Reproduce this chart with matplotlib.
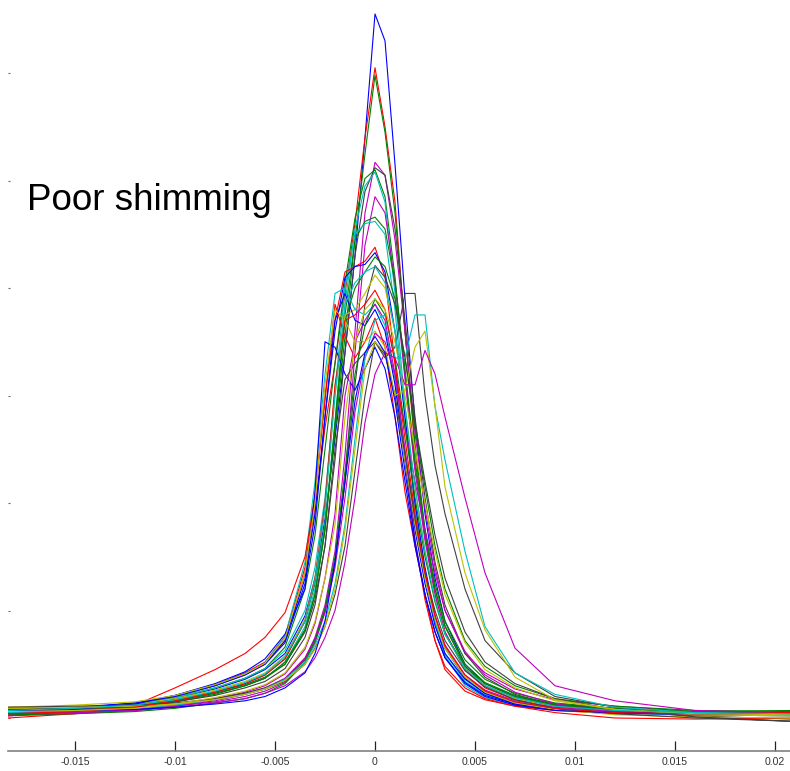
import matplotlib
matplotlib.use('Agg')
import matplotlib.pyplot as plt
import numpy as np

# frequency offset grid shared by all spectra
freq = np.array([-0.01835, -0.015, -0.012, -0.010, -0.008, -0.0065, -0.0055, -0.0045,
                 -0.0035, -0.003, -0.0025, -0.002, -0.0015, -0.001, -0.0005, 0.0,
                 0.0005, 0.001, 0.0015, 0.002, 0.0025, 0.003, 0.0035, 0.0045,
                 0.0055, 0.007, 0.009, 0.012, 0.016, 0.02075])

# spectra (arbitrary units, 1 unit = 1 y tick)
s01 = [0.06, 0.08, 0.12, 0.18, 0.27, 0.36, 0.45, 0.6, 0.95, 1.3, 1.85, 2.6, 3.4, 4.3, 5.4, 6.55, 6.3, 5.15, 3.9, 2.75, 1.9, 1.3, 0.9, 0.5, 0.32, 0.2, 0.13, 0.08, 0.04, 0.03]
s02 = [0.03, 0.07, 0.13, 0.2, 0.3, 0.4, 0.5, 0.72, 1.35, 1.95, 2.7, 3.3, 3.95, 4.6, 5.4, 6.05, 5.5, 4.8, 3.6, 2.5, 1.7, 1.15, 0.8, 0.45, 0.28, 0.17, 0.11, 0.07, 0.04, 0.05]
s03 = [0.05, 0.07, 0.11, 0.16, 0.24, 0.32, 0.4, 0.55, 0.9, 1.25, 1.8, 2.65, 3.55, 4.45, 5.25, 5.98, 5.45, 4.7, 3.6, 2.55, 1.75, 1.2, 0.85, 0.48, 0.3, 0.19, 0.12, 0.07, 0.05, 0.05]
s04 = [0.04, 0.05, 0.07, 0.11, 0.16, 0.22, 0.27, 0.36, 0.55, 0.75, 1.05, 1.55, 2.45, 3.6, 4.7, 5.17, 5.05, 4.45, 3.6, 2.65, 1.95, 1.4, 1.0, 0.6, 0.42, 0.27, 0.17, 0.11, 0.06, 0.05]
s05 = [0.09, 0.1, 0.13, 0.17, 0.24, 0.31, 0.38, 0.5, 0.8, 1.1, 1.6, 2.4, 3.4, 4.3, 4.9, 5.12, 5.05, 4.55, 3.7, 2.8, 2.05, 1.45, 1.05, 0.6, 0.38, 0.22, 0.12, 0.06, 0.02, -0.01]
s06 = [0.05, 0.08, 0.13, 0.19, 0.28, 0.37, 0.46, 0.66, 1.2, 1.7, 2.5, 3.3, 4.05, 4.65, 5.02, 5.1, 4.85, 4.1, 3.2, 2.35, 1.7, 1.2, 0.86, 0.5, 0.33, 0.21, 0.13, 0.09, 0.06, 0.05]
s07 = [0.04, 0.06, 0.1, 0.15, 0.23, 0.3, 0.37, 0.52, 0.85, 1.2, 1.8, 2.75, 3.85, 4.55, 4.95, 5.08, 4.8, 3.95, 2.9, 2.0, 1.35, 0.88, 0.58, 0.3, 0.19, 0.12, 0.08, 0.05, 0.03, 0.03]
s08 = [0.02, 0.04, 0.07, 0.11, 0.17, 0.23, 0.28, 0.37, 0.56, 0.74, 1.0, 1.45, 2.2, 3.4, 4.4, 4.85, 4.7, 4.05, 3.15, 2.3, 1.65, 1.15, 0.8, 0.45, 0.3, 0.18, 0.11, 0.06, 0.03, 0.02]
s09 = [0.08, 0.09, 0.12, 0.16, 0.23, 0.3, 0.37, 0.5, 0.82, 1.15, 1.75, 2.75, 3.75, 4.45, 4.62, 4.66, 4.55, 4.05, 3.25, 2.4, 1.75, 1.25, 0.9, 0.54, 0.36, 0.23, 0.14, 0.09, 0.05, 0.04]
s10 = [0.06, 0.09, 0.13, 0.19, 0.28, 0.37, 0.46, 0.63, 1.0, 1.4, 2.05, 3.05, 4.0, 4.5, 4.6, 4.62, 4.5, 3.8, 2.8, 1.95, 1.35, 0.9, 0.6, 0.34, 0.22, 0.13, 0.08, 0.04, 0.03, 0.02]
s11 = [0.02, 0.06, 0.12, 0.2, 0.31, 0.42, 0.52, 0.76, 1.4, 2.1, 3.0, 3.7, 4.15, 4.2, 4.25, 4.38, 4.1, 3.3, 2.4, 1.65, 1.1, 0.72, 0.48, 0.28, 0.18, 0.11, 0.07, 0.04, 0.04, 0.05]
s12 = [0.06, 0.09, 0.14, 0.21, 0.31, 0.41, 0.51, 0.72, 1.3, 1.9, 2.8, 3.6, 4.1, 4.2, 4.22, 4.33, 4.15, 3.6, 2.8, 2.0, 1.4, 0.95, 0.65, 0.37, 0.23, 0.13, 0.08, 0.05, 0.03, 0.03]
s13 = [0.05, 0.07, 0.1, 0.15, 0.22, 0.3, 0.37, 0.52, 0.82, 1.15, 1.75, 2.7, 3.7, 4.0, 4.15, 4.29, 4.2, 3.9, 3.35, 2.7, 2.15, 1.6, 1.2, 0.72, 0.48, 0.3, 0.18, 0.11, 0.07, 0.06]
s14 = [0.1, 0.1, 0.11, 0.13, 0.18, 0.23, 0.28, 0.36, 0.54, 0.72, 1.0, 1.45, 2.2, 3.1, 3.85, 4.21, 4.1, 3.85, 3.35, 2.75, 2.2, 1.7, 1.3, 0.8, 0.52, 0.32, 0.18, 0.08, 0.01, -0.03]
s15 = [0.08, 0.1, 0.13, 0.18, 0.26, 0.34, 0.42, 0.58, 0.92, 1.3, 1.95, 3.0, 3.75, 3.8, 3.95, 4.12, 4.0, 3.6, 2.9, 2.15, 1.55, 1.1, 0.78, 0.46, 0.3, 0.18, 0.1, 0.05, 0.03, 0.03]
s16 = [0.05, 0.08, 0.13, 0.2, 0.3, 0.41, 0.51, 0.76, 1.45, 2.2, 3.2, 3.95, 4.0, 3.8, 3.75, 3.85, 3.65, 3.15, 2.45, 1.8, 1.3, 0.92, 0.65, 0.38, 0.25, 0.15, 0.09, 0.05, 0.03, 0.03]
s17 = [0.0, 0.04, 0.12, 0.28, 0.45, 0.6, 0.75, 0.98, 1.5, 2.05, 2.95, 3.85, 3.55, 3.35, 3.5, 3.72, 3.45, 2.8, 2.1, 1.6, 1.15, 0.72, 0.45, 0.25, 0.17, 0.11, 0.05, 0.0, -0.01, 0.0]
s18 = [0.05, 0.08, 0.13, 0.21, 0.32, 0.43, 0.55, 0.78, 1.2, 2.1, 3.5, 3.45, 3.2, 3.05, 3.25, 3.45, 3.25, 2.8, 2.2, 1.6, 1.15, 0.8, 0.56, 0.33, 0.21, 0.13, 0.08, 0.05, 0.03, 0.04]
s19 = [0.04, 0.05, 0.08, 0.12, 0.18, 0.24, 0.3, 0.41, 0.64, 0.88, 1.3, 1.9, 3.0, 3.5, 3.7, 3.85, 3.7, 3.2, 2.5, 1.85, 1.35, 0.95, 0.68, 0.4, 0.26, 0.16, 0.1, 0.06, 0.03, 0.03]
s20 = [0.07, 0.1, 0.14, 0.2, 0.3, 0.4, 0.5, 0.7, 1.25, 1.8, 2.8, 3.7, 3.95, 3.7, 3.65, 3.8, 3.6, 3.1, 2.4, 1.75, 1.25, 0.86, 0.6, 0.36, 0.23, 0.14, 0.08, 0.05, 0.04, 0.05]
s21 = [0.1, 0.12, 0.15, 0.21, 0.31, 0.41, 0.51, 0.74, 1.35, 2.0, 3.1, 3.8, 3.7, 3.5, 3.5, 3.6, 3.45, 3.0, 2.4, 1.8, 1.3, 0.92, 0.65, 0.38, 0.24, 0.14, 0.08, 0.03, 0.01, 0.0]
s22 = [0.06, 0.06, 0.08, 0.11, 0.15, 0.2, 0.25, 0.33, 0.52, 0.7, 0.98, 1.4, 2.05, 2.85, 3.35, 3.58, 3.5, 3.2, 2.7, 2.2, 1.75, 1.35, 1.0, 0.62, 0.4, 0.24, 0.13, 0.07, 0.04, 0.04]
s23 = [0.08, 0.09, 0.11, 0.15, 0.21, 0.28, 0.34, 0.46, 0.75, 1.05, 1.6, 2.5, 3.15, 3.3, 3.4, 3.5, 3.38, 3.0, 2.45, 1.85, 1.35, 1.0, 0.72, 0.44, 0.29, 0.17, 0.09, 0.04, 0.0, -0.03]
s24 = [0.03, 0.04, 0.06, 0.09, 0.14, 0.18, 0.23, 0.32, 0.52, 0.72, 1.02, 1.5, 2.3, 3.2, 3.65, 3.9, 3.75, 3.35, 2.7, 2.05, 1.5, 1.08, 0.78, 0.48, 0.32, 0.2, 0.12, 0.08, 0.06, 0.07]
s25 = [0.1, 0.11, 0.12, 0.14, 0.18, 0.23, 0.27, 0.34, 0.5, 0.65, 0.85, 1.15, 1.6, 2.3, 3.0, 3.5, 3.35, 3.45, 3.95, 3.95, 3.0, 2.35, 1.9, 1.2, 0.72, 0.42, 0.2, 0.1, 0.01, -0.03]
s26 = [0.05, 0.06, 0.09, 0.12, 0.17, 0.22, 0.27, 0.36, 0.52, 0.68, 0.9, 1.25, 1.8, 2.6, 3.35, 3.7, 3.75, 3.35, 3.35, 3.75, 3.75, 2.9, 2.4, 1.55, 0.85, 0.42, 0.22, 0.1, 0.05, 0.03]
s27 = [0.09, 0.1, 0.11, 0.13, 0.17, 0.22, 0.27, 0.35, 0.5, 0.64, 0.85, 1.2, 1.75, 2.5, 3.25, 3.5, 3.4, 3.0, 3.05, 3.45, 3.6, 2.9, 2.15, 1.35, 0.82, 0.38, 0.17, 0.08, 0.03, 0.02]
s28 = [0.04, 0.05, 0.07, 0.1, 0.14, 0.18, 0.23, 0.3, 0.43, 0.56, 0.75, 1.0, 1.45, 2.05, 2.75, 3.2, 3.4, 3.35, 3.1, 3.1, 3.42, 3.2, 2.8, 2.05, 1.35, 0.65, 0.3, 0.16, 0.07, 0.05]
s29 = [0.07, 0.07, 0.08, 0.1, 0.13, 0.16, 0.2, 0.28, 0.42, 0.6, 0.9, 1.45, 2.2, 2.95, 3.4, 3.55, 3.4, 2.95, 2.3, 1.65, 1.15, 0.8, 0.56, 0.32, 0.2, 0.12, 0.07, 0.05, 0.04, 0.04]
s30 = [0.04, 0.06, 0.1, 0.16, 0.24, 0.32, 0.4, 0.55, 0.9, 1.3, 2.0, 3.1, 3.7, 3.75, 3.85, 3.98, 3.8, 3.3, 2.6, 1.9, 1.35, 0.95, 0.67, 0.4, 0.25, 0.15, 0.09, 0.05, 0.04, 0.05]
s31 = [0.06, 0.07, 0.09, 0.13, 0.19, 0.25, 0.31, 0.42, 0.66, 0.9, 1.3, 1.8, 2.8, 3.5, 3.8, 3.9, 3.8, 3.5, 3.0, 2.5, 2.0, 1.55, 1.15, 0.7, 0.45, 0.28, 0.16, 0.08, 0.04, 0.03]
s32 = [0.07, 0.09, 0.12, 0.17, 0.25, 0.33, 0.41, 0.57, 0.9, 1.28, 1.95, 3.0, 3.85, 4.05, 4.15, 4.2, 4.05, 3.6, 2.9, 2.15, 1.55, 1.1, 0.78, 0.46, 0.3, 0.19, 0.11, 0.07, 0.05, 0.04]

spectra = [s01, s02, s03, s04, s05, s06, s07, s08, s09, s10, s11, s12, s13, s14, s15, s16,
           s17, s18, s19, s20, s21, s22, s23, s24, s25, s26, s27, s28, s29, s30, s31, s32]
colours = ['b', 'r', 'g', 'm', 'k', 'g', 'c', 'm', 'g', 'c', 'r', 'b', 'g', 'k', 'y', 'c',
           'r', 'b', 'm', 'b', 'y', 'm', 'k', 'g', 'k', 'c', 'y', 'm', 'b', 'r', 'y', 'c']

xticks = [-0.015, -0.01, -0.005, 0, 0.005, 0.01, 0.015, 0.02]
xticklabels = ['-0.015', '-0.01', '-0.005', '0', '0.005', '0.01', '0.015', '0.02']
yticks = [0, 1, 2, 3, 4, 5, 6]

# old matlab line colours
matlab = {'b': (0, 0, 1), 'g': (0, 0.5, 0), 'r': (1, 0, 0), 'c': (0, 0.75, 0.75),
          'm': (0.75, 0, 0.75), 'y': (0.75, 0.75, 0), 'k': (0.25, 0.25, 0.25)}

fig = plt.figure(figsize=(7.9, 7.71), dpi=100)
ax = fig.add_axes([8 / 790, 20 / 771, 782 / 790, 751 / 771])

for s, c in zip(spectra, colours):
    ax.plot(freq, s, color=matlab[c], lw=0.8)

ax.set_xlim(-0.01835, 0.02075)
ax.set_ylim(-0.307, 6.68)
ax.set_xticks(xticks)
ax.set_xticklabels(xticklabels, fontsize=7.6, color='#333333', family='Liberation Sans')
ax.set_yticks(yticks)
ax.set_yticklabels([])

for side in ['top', 'right', 'left']:
    ax.spines[side].set_visible(False)
ax.spines['bottom'].set_color('#808080')
ax.spines['bottom'].set_linewidth(1.2)
ax.tick_params(axis='x', direction='in', length=7.5, width=0.9, color='#222222', pad=4)
ax.tick_params(axis='y', direction='in', length=1.2, width=0.8, color='#666666')

fig.text(27 / 790, (771 - 210) / 771, 'Poor shimming', fontsize=26.5,
         family='Liberation Sans', va='baseline', ha='left')

fig.savefig('out.png', dpi=100)
